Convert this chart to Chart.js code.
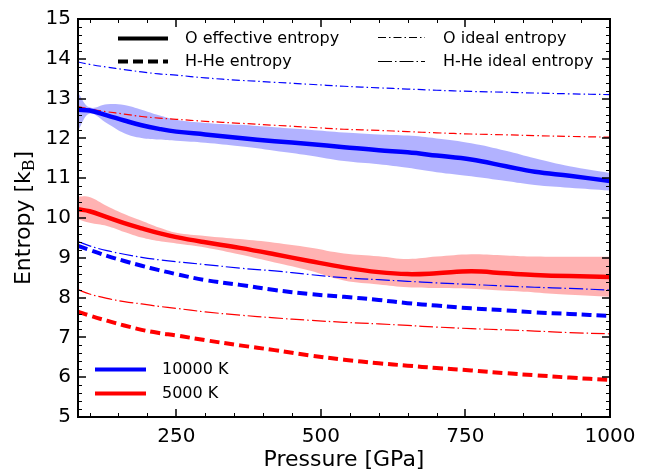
<!DOCTYPE html>
<html>
<head>
<meta charset="utf-8">
<script src="https://cdn.jsdelivr.net/npm/chart.js@4/dist/chart.umd.min.js"></script>
<style>
  html, body { margin: 0; padding: 0; background: #fff; }
  #wrap { width: 655px; height: 470px; }
</style>
</head>
<body>
<div id="wrap"><canvas id="c" width="655" height="470"></canvas></div>
<script>
// ---- data ----
const pressure = [80,100,130,160,190,220,250,300,360,420,480,540,600,650,700,760,820,870,930,1000];

// O effective entropy, 10000 K (line + uncertainty band)
const oEff10000      = [12.72,12.70,12.58,12.45,12.33,12.24,12.17,12.10,12.01,11.93,11.86,11.78,11.70,11.65,11.57,11.47,11.30,11.16,11.06,10.93];
const oEff10000Upper = [13.15,12.78,12.86,12.84,12.72,12.58,12.47,12.39,12.34,12.28,12.22,12.15,12.10,12.07,12.00,11.88,11.69,11.50,11.30,11.13];
const oEff10000Lower = [12.20,12.62,12.38,12.13,12.01,11.97,11.94,11.89,11.80,11.69,11.57,11.43,11.35,11.26,11.15,11.05,10.93,10.83,10.76,10.69];

// O effective entropy, 5000 K (line + uncertainty band)
const oEff5000      = [10.22,10.17,10.02,9.87,9.74,9.62,9.52,9.39,9.25,9.09,8.92,8.76,8.64,8.59,8.61,8.66,8.61,8.57,8.54,8.52];
const oEff5000Upper = [10.54,10.53,10.30,10.10,9.93,9.76,9.63,9.55,9.47,9.38,9.26,9.11,9.04,8.97,9.03,9.09,9.06,9.03,9.025,9.025];
const oEff5000Lower = [9.97,9.88,9.80,9.65,9.51,9.42,9.36,9.26,9.08,8.88,8.68,8.43,8.33,8.26,8.24,8.22,8.17,8.13,8.07,8.02];

// H-He entropy
const hhe10000 = [9.30,9.20,9.05,8.92,8.80,8.69,8.59,8.44,8.32,8.19,8.09,8.02,7.94,7.86,7.80,7.73,7.68,7.63,7.59,7.54];
const hhe5000  = [7.65,7.55,7.42,7.30,7.19,7.11,7.05,6.93,6.80,6.68,6.55,6.44,6.35,6.29,6.23,6.17,6.10,6.05,5.99,5.93];

// O ideal entropy
const oIdeal10000 = [13.92,13.86,13.79,13.73,13.67,13.62,13.59,13.52,13.46,13.41,13.36,13.31,13.27,13.24,13.21,13.18,13.16,13.14,13.12,13.10];
const oIdeal5000  = [12.80,12.74,12.67,12.61,12.55,12.51,12.48,12.43,12.38,12.33,12.28,12.23,12.20,12.17,12.14,12.11,12.09,12.07,12.05,12.03];

// H-He ideal entropy
const hheIdeal10000 = [9.41,9.30,9.18,9.09,9.01,8.95,8.90,8.83,8.74,8.67,8.58,8.50,8.45,8.41,8.37,8.33,8.29,8.26,8.23,8.19];
const hheIdeal5000  = [8.20,8.09,7.98,7.90,7.84,7.78,7.73,7.64,7.56,7.49,7.43,7.38,7.34,7.30,7.26,7.22,7.19,7.16,7.12,7.09];

const xTickValues = [250, 500, 750, 1000];
const yTickValues = [5,6,7,8,9,10,11,12,13,14,15];
const xMinorStep = 50, yMinorStep = 0.2;

const legendTopLeft  = ['O effective entropy', 'H-He entropy'];
const legendTopRight = ['O ideal entropy', 'H-He ideal entropy'];
const legendTemps    = ['10000 K', '5000 K'];

// ---- styling ----
const BLUE = 'rgb(0,0,255)', RED = 'rgb(255,0,0)';
const BLUE_BAND = 'rgba(0,0,255,0.3)', RED_BAND = 'rgba(255,0,0,0.3)';
const FONT = "'DejaVu Sans', 'Liberation Sans', sans-serif";
const DASH = [10, 5];
const O_IDEAL_DASH = [8, 3, 1.5, 3];
const HHE_IDEAL_DASH = [14, 3, 1.5, 3];
const TENSION = 0.4;

const pts = arr => pressure.map((p, i) => ({ x: p, y: arr[i] }));

function line(arr, color, width, dash, order) {
  return { data: pts(arr), borderColor: color, borderWidth: width, borderDash: dash || [],
           pointRadius: 0, fill: false, tension: TENSION, order: order };
}
function bandUpper(arr, color) {
  return { data: pts(arr), borderWidth: 0, borderColor: 'rgba(0,0,0,0)', backgroundColor: color,
           pointRadius: 0, fill: '+1', tension: TENSION, order: 50 };
}
function bandLower(arr) {
  return { data: pts(arr), borderWidth: 0, borderColor: 'rgba(0,0,0,0)',
           pointRadius: 0, fill: false, tension: TENSION, order: 51 };
}

const datasets = [
  bandUpper(oEff10000Upper, BLUE_BAND), bandLower(oEff10000Lower),
  bandUpper(oEff5000Upper, RED_BAND),   bandLower(oEff5000Lower),
  line(oIdeal10000, BLUE, 1.2, O_IDEAL_DASH, 10),
  line(oIdeal5000, RED, 1.2, O_IDEAL_DASH, 10),
  line(hheIdeal10000, BLUE, 1.2, HHE_IDEAL_DASH, 10),
  line(hheIdeal5000, RED, 1.2, HHE_IDEAL_DASH, 10),
  line(hhe10000, BLUE, 4, DASH, 5),
  line(hhe5000, RED, 4, DASH, 5),
  line(oEff10000, BLUE, 4.5, null, 1),
  line(oEff5000, RED, 4.5, null, 1)
];

// frame, inward ticks on all sides, axis titles, legends
const decor = {
  id: 'decor',
  afterDraw(chart) {
    const ctx = chart.ctx, a = chart.chartArea;
    const xs = chart.scales.x, ys = chart.scales.y;
    ctx.save();
    ctx.strokeStyle = '#000';
    // minor ticks
    ctx.lineWidth = 1;
    for (let v = 100; v <= 1000 + 1e-6; v += xMinorStep) {
      if (xTickValues.includes(v)) continue;
      const px = Math.round(xs.getPixelForValue(v)) + 0.5;
      ctx.beginPath(); ctx.moveTo(px, a.bottom); ctx.lineTo(px, a.bottom - 4);
      ctx.moveTo(px, a.top); ctx.lineTo(px, a.top + 4); ctx.stroke();
    }
    for (let k = 0; k <= 50; k++) {
      const v = 5 + k * yMinorStep;
      if (Math.abs(v - Math.round(v)) < 1e-6) continue;
      const py = Math.round(ys.getPixelForValue(v)) + 0.5;
      ctx.beginPath(); ctx.moveTo(a.left, py); ctx.lineTo(a.left + 4, py);
      ctx.moveTo(a.right, py); ctx.lineTo(a.right - 4, py); ctx.stroke();
    }
    // major ticks
    ctx.lineWidth = 1.5;
    xTickValues.forEach(v => {
      const px = Math.round(xs.getPixelForValue(v));
      ctx.beginPath(); ctx.moveTo(px, a.bottom); ctx.lineTo(px, a.bottom - 8);
      ctx.moveTo(px, a.top); ctx.lineTo(px, a.top + 8); ctx.stroke();
    });
    yTickValues.forEach(v => {
      const py = Math.round(ys.getPixelForValue(v));
      ctx.beginPath(); ctx.moveTo(a.left, py); ctx.lineTo(a.left + 8, py);
      ctx.moveTo(a.right, py); ctx.lineTo(a.right - 8, py); ctx.stroke();
    });
    // frame
    ctx.lineWidth = 2;
    ctx.strokeRect(a.left, a.top, a.right - a.left, a.bottom - a.top);

    // axis titles
    ctx.fillStyle = '#000';
    ctx.font = '22px ' + FONT;
    ctx.textAlign = 'center'; ctx.textBaseline = 'alphabetic';
    ctx.fillText('Pressure [GPa]', (a.left + a.right) / 2, 466);

    ctx.save();
    ctx.translate(30, (a.top + a.bottom) / 2);
    ctx.rotate(-Math.PI / 2);
    const p1 = 'Entropy [k', sub = 'B', p2 = ']';
    ctx.font = '22px ' + FONT;
    const w1 = ctx.measureText(p1).width, w3 = ctx.measureText(p2).width;
    ctx.font = "16px 'DejaVu Serif', serif";
    const w2 = ctx.measureText(sub).width;
    let x0 = -(w1 + w2 + w3) / 2;
    ctx.textAlign = 'left';
    ctx.font = '22px ' + FONT;
    ctx.fillText(p1, x0, 0);
    ctx.font = "16px 'DejaVu Serif', serif";
    ctx.fillText(sub, x0 + w1, 4);
    ctx.font = '22px ' + FONT;
    ctx.fillText(p2, x0 + w1 + w2, 0);
    ctx.restore();

    // legends
    function sample(x1, x2, y, color, width, dash) {
      ctx.save();
      ctx.strokeStyle = color; ctx.lineWidth = width; ctx.setLineDash(dash);
      ctx.beginPath(); ctx.moveTo(x1, y); ctx.lineTo(x2, y); ctx.stroke();
      ctx.restore();
    }
    ctx.font = '16px ' + FONT;
    ctx.textAlign = 'left'; ctx.textBaseline = 'middle';
    ctx.fillStyle = '#000';
    sample(118, 168, 38.5, '#000', 4, []);
    sample(118, 168, 61.5, '#000', 4, DASH);
    ctx.fillText(legendTopLeft[0], 185, 39);
    ctx.fillText(legendTopLeft[1], 185, 62);

    sample(378, 425, 37.5, '#000', 1.2, O_IDEAL_DASH);
    sample(378, 425, 61.5, '#000', 1.2, HHE_IDEAL_DASH);
    ctx.fillText(legendTopRight[0], 443, 39);
    ctx.fillText(legendTopRight[1], 443, 62);

    sample(95, 146, 369.5, BLUE, 4, []);
    sample(95, 146, 393.5, RED, 4, []);
    ctx.fillText(legendTemps[0], 162, 370);
    ctx.fillText(legendTemps[1], 162, 394);
    ctx.restore();
  }
};

new Chart(document.getElementById('c'), {
  type: 'line',
  data: { datasets },
  options: {
    responsive: false,
    animation: false,
    events: [],
    layout: { padding: { left: 0, top: 17, right: 45, bottom: 0 } },
    plugins: {
      legend: { display: false },
      tooltip: { enabled: false },
      filler: { drawTime: 'beforeDatasetsDraw' }
    },
    scales: {
      x: {
        type: 'linear', min: 80, max: 1000,
        afterBuildTicks: s => { s.ticks = xTickValues.map(v => ({ value: v })); },
        afterFit: s => { s.height = 53; },
        grid: { display: false, drawTicks: false },
        border: { display: false },
        ticks: { color: '#000', font: { family: FONT, size: 20 }, padding: 8, maxRotation: 0, autoSkip: false,
                 callback: v => String(v) }
      },
      y: {
        type: 'linear', min: 5, max: 15,
        afterBuildTicks: s => { s.ticks = yTickValues.map(v => ({ value: v })); },
        afterFit: s => { s.width = 78; },
        grid: { display: false, drawTicks: false },
        border: { display: false },
        ticks: { color: '#000', font: { family: FONT, size: 20 }, padding: 7, callback: v => String(v) }
      }
    }
  },
  plugins: [decor]
});
</script>
</body>
</html>
